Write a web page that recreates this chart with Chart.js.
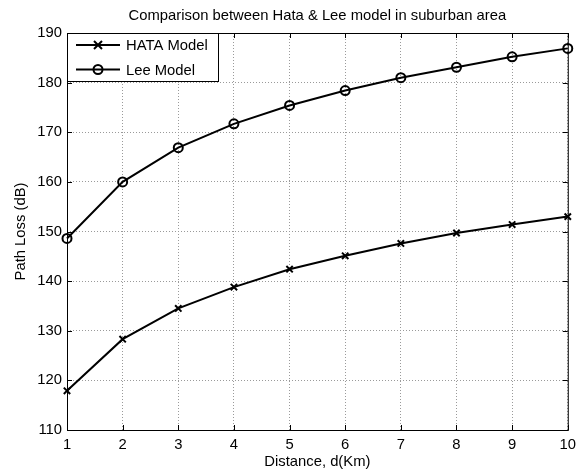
<!DOCTYPE html>
<html>
<head>
<meta charset="utf-8">
<script src="https://cdn.jsdelivr.net/npm/chart.js@4/dist/chart.umd.min.js"></script>
<style>
  html, body { margin: 0; padding: 0; background: #fff; }
  #wrap { width: 582px; height: 472px; }
</style>
</head>
<body>
<div id="wrap"><canvas id="plChart" width="582" height="472"></canvas></div>
<script>
// valores
const distances = [1, 2, 3, 4, 5, 6, 7, 8, 9, 10];
const hataLoss = [117.9, 128.3, 134.5, 138.8, 142.4, 145.1, 147.6, 149.7, 151.4, 153.0];
const leeLoss = [148.6, 160.0, 166.9, 171.7, 175.4, 178.4, 181.0, 183.1, 185.2, 186.9];
const yTicks = [110, 120, 130, 140, 150, 160, 170, 180, 190];
const chartTitle = 'Comparison between Hata & Lee model in suburban area';

const FONT = 'Arial, "Liberation Sans", Helvetica, sans-serif';
const FSIZE = 14.8;

function toPoints(values) {
    return distances.map((d, i) => ({ x: d, y: values[i] }));
}

function drawMarker(ctx, style, x, y) {
    ctx.beginPath();
    if (style === 'circle') {
        ctx.arc(x, y, 4.5, 0, Math.PI * 2);
    } else {
        const r = 4;
        ctx.moveTo(x - r, y - r);
        ctx.lineTo(x + r, y + r);
        ctx.moveTo(x + r, y - r);
        ctx.lineTo(x - r, y + r);
    }
    ctx.stroke();
}

// moldura, ticks para dentro, titulo e legenda estilo matlab
const matlabFrame = {
    id: 'matlabFrame',
    afterDraw(chart) {
        const { ctx, chartArea: a, scales } = chart;
        ctx.save();
        ctx.strokeStyle = '#000';
        ctx.lineWidth = 1;
        ctx.strokeRect(a.left + 0.5, a.top + 0.5, a.right - a.left, a.bottom - a.top);

        const tl = 5;
        ctx.beginPath();
        distances.forEach(d => {
            const x = Math.round(scales.x.getPixelForValue(d)) + 0.5;
            ctx.moveTo(x, a.bottom); ctx.lineTo(x, a.bottom - tl);
            ctx.moveTo(x, a.top); ctx.lineTo(x, a.top + tl);
        });
        yTicks.forEach(v => {
            const y = Math.round(scales.y.getPixelForValue(v)) + 0.5;
            ctx.moveTo(a.left, y); ctx.lineTo(a.left + tl, y);
            ctx.moveTo(a.right, y); ctx.lineTo(a.right - tl, y);
        });
        ctx.stroke();

        // titulo
        ctx.fillStyle = '#000';
        ctx.font = FSIZE + 'px ' + FONT;
        ctx.textAlign = 'center';
        ctx.textBaseline = 'middle';
        ctx.fillText(chartTitle, (a.left + a.right) / 2, 16);

        // legenda
        const bx = a.left + 0.5, by = a.top + 0.5, bw = 151, bh = 48;
        ctx.fillStyle = '#fff';
        ctx.fillRect(bx, by, bw, bh);
        ctx.strokeRect(bx, by, bw, bh);
        chart.data.datasets.forEach((ds, i) => {
            const y = a.top + 12 + i * 24.5;
            ctx.strokeStyle = '#000';
            ctx.lineWidth = 2;
            ctx.beginPath();
            ctx.moveTo(a.left + 9, y);
            ctx.lineTo(a.left + 53, y);
            ctx.stroke();
            drawMarker(ctx, ds.pointStyle, a.left + 31, y);
            ctx.fillStyle = '#000';
            ctx.textAlign = 'left';
            ctx.fillText(ds.label, a.left + 59, y + 1);
        });
        ctx.restore();
    }
};

const ctx = document.getElementById('plChart');

new Chart(ctx, {
    type: 'line',
    data: {
        datasets: [{
            label: 'HATA Model',
            data: toPoints(hataLoss),
            borderColor: '#000',
            borderWidth: 2,
            pointStyle: 'crossRot',
            pointRadius: 4.5,
            pointBorderWidth: 2,
            pointBorderColor: '#000',
            pointBackgroundColor: 'transparent',
            tension: 0,
            clip: false
        }, {
            label: 'Lee Model',
            data: toPoints(leeLoss),
            borderColor: '#000',
            borderWidth: 2,
            pointStyle: 'circle',
            pointRadius: 4.5,
            pointBorderWidth: 2,
            pointBorderColor: '#000',
            pointBackgroundColor: 'transparent',
            tension: 0,
            clip: false
        }]
    },
    options: {
        responsive: false,
        animation: false,
        layout: {
            padding: { top: 33, right: 11, bottom: 0, left: 0 }
        },
        plugins: {
            legend: { display: false },
            title: { display: false },
            tooltip: { enabled: false }
        },
        scales: {
            x: {
                type: 'linear',
                min: 1,
                max: 10,
                afterFit: (scale) => { scale.height = 42; },
                afterBuildTicks: (scale) => { scale.ticks = distances.map(v => ({ value: v })); },
                ticks: {
                    color: '#000',
                    padding: 6,
                    maxRotation: 0,
                    font: { family: FONT, size: FSIZE }
                },
                grid: { color: '#9a9a9a', drawTicks: false, lineWidth: 1 },
                border: { display: false, dash: [1, 2] },
                title: {
                    display: true,
                    text: 'Distance, d(Km)',
                    color: '#000',
                    font: { family: FONT, size: FSIZE },
                    padding: { top: 0, bottom: 1 }
                }
            },
            y: {
                min: 110,
                max: 190,
                afterFit: (scale) => { scale.width = 67; },
                afterBuildTicks: (scale) => { scale.ticks = yTicks.map(v => ({ value: v })); },
                ticks: {
                    color: '#000',
                    padding: 5,
                    font: { family: FONT, size: FSIZE }
                },
                grid: { color: '#9a9a9a', drawTicks: false, lineWidth: 1 },
                border: { display: false, dash: [1, 2] },
                title: {
                    display: true,
                    text: 'Path Loss (dB)',
                    color: '#000',
                    font: { family: FONT, size: FSIZE },
                    padding: { top: 12, bottom: 0 }
                }
            }
        }
    },
    plugins: [matlabFrame]
});
</script>
</body>
</html>
